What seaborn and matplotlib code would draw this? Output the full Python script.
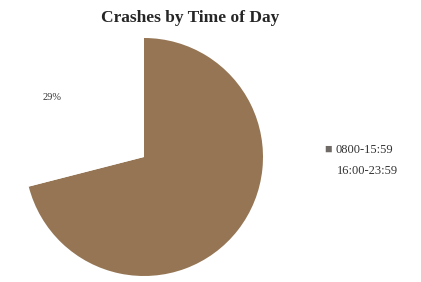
import matplotlib
matplotlib.use("Agg")
import matplotlib.pyplot as plt
import seaborn as sns

categories = ["0800-15:59", "16:00-23:59"]
values = [71, 29]
colors = ["#957553", "#ffffff"]
title = "Crashes by Time of Day"

sns.set_theme(style="white")
plt.rcParams['font.family'] = ['Liberation Serif', 'DejaVu Serif']

fig = plt.figure(figsize=(4.21, 2.82), dpi=100)
W, H = 421, 282
cx, cy, r = 144, 157, 119
ax = fig.add_axes([(cx - r) / W, (H - cy - r) / H, 2 * r / W, 2 * r / H])
wedges, texts = ax.pie(values, colors=colors, startangle=90, counterclock=False,
                       wedgeprops=dict(linewidth=0))
ax.set_aspect('equal')
ax.set_xlim(-1, 1)
ax.set_ylim(-1, 1)
ax.axis('off')

# percentage label for the white slice
ax.text(-0.77, 0.5, f"{values[1]}%", fontsize=7.5, color="#333333", ha='center', va='center')

fig.text(190 / W, 1 - 18 / H, title, fontsize=12.5, fontweight='bold', ha='center', va='center')

# legend
fig.text(324 / W, 1 - 150 / H, "\u25A0", fontsize=9, color="#6f6a66", ha='left', va='center')
fig.text(335 / W, 1 - 150 / H, categories[0], fontsize=9, color="#333333", ha='left', va='center')
fig.text(337 / W, 1 - 171 / H, categories[1], fontsize=9, color="#333333", ha='left', va='center')

fig.savefig("out.png", dpi=100)
